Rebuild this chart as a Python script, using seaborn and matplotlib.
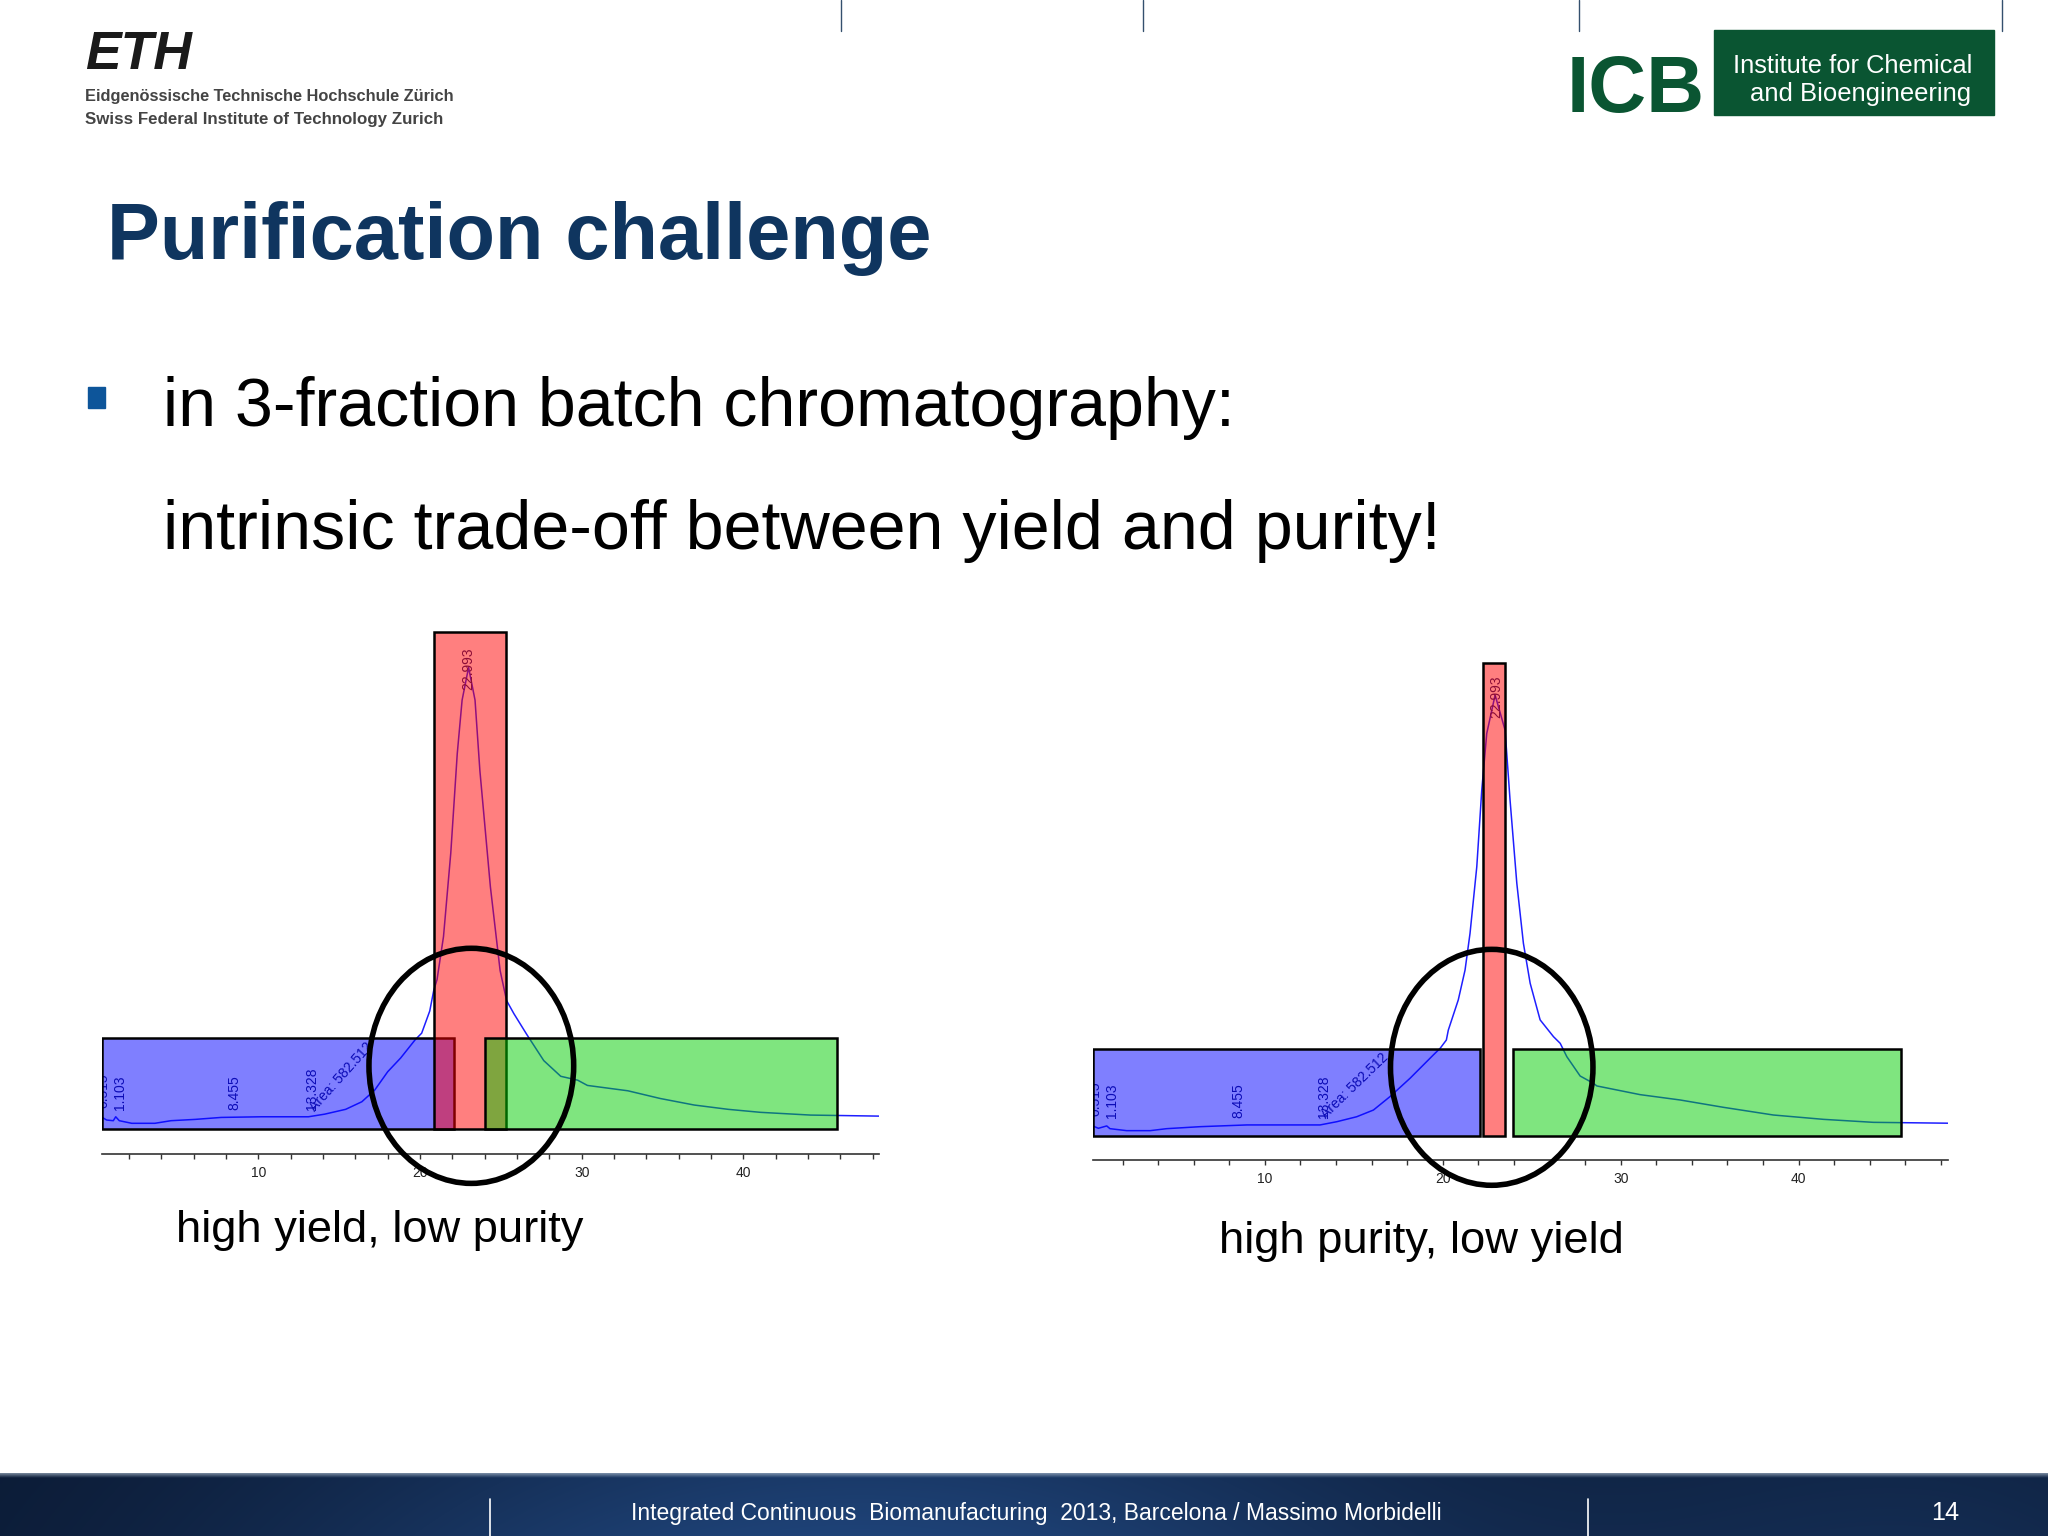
import numpy as np
import pandas as pd
import matplotlib
matplotlib.use("Agg")
import matplotlib.pyplot as plt
import seaborn as sns
from matplotlib.patches import Rectangle, Ellipse
from matplotlib.ticker import MultipleLocator, FixedLocator
from matplotlib import font_manager
from matplotlib.colors import to_rgba

# ---------------------------------------------------------------- texts
TITLE = "Purification challenge"
BULLET_1 = "in 3-fraction batch chromatography:"
BULLET_2 = "intrinsic trade-off between yield and purity!"
CAPTIONS = ["high yield, low purity", "high purity, low yield"]
FOOTER = "Integrated Continuous  Biomanufacturing  2013, Barcelona / Massimo Morbidelli"
PAGE = "14"
ETH_LOGO = "ETH"
ETH_LINES = ["Eidgenössische Technische Hochschule Zürich",
             "Swiss Federal Institute of Technology Zurich"]
ICB_LOGO = "ICB"
ICB_LINES = ["Institute for Chemical", "and Bioengineering"]

# ---------------------------------------------------------------- chromatograms
# left panel (high yield, low purity): time [min], signal [a.u.]
left_time = [0.35, 0.62, 1.03, 1.18, 1.40, 2.17, 3.6, 4.6, 6.1, 7.7, 10.2, 13.1,
             14.1, 15.4, 16.4, 17.2, 18.0, 18.8, 19.7, 20.1, 20.6, 20.85, 21.05,
             21.45, 21.9, 22.3, 22.6, 23.0, 23.4, 23.7, 24.35, 24.95, 25.35, 25.8,
             26.6, 27.65, 28.7, 29.75, 30.35, 31.75, 32.85, 34.85, 36.95, 39.05,
             41.05, 44.15, 48.4]
left_signal = [8.5, 6.5, 6.0, 9.0, 6.0, 4.0, 4.0, 6.0, 7.0, 8.5, 9.0, 9.0,
               11.0, 14.7, 20.5, 29.5, 43.5, 54.0, 68.0, 73.0, 90.0, 106.0, 114.0,
               147.0, 211.0, 287.0, 328.0, 353.0, 328.0, 274.0, 185.0, 121.0, 98.0, 88.0,
               72.0, 52.0, 40.0, 37.0, 33.0, 30.7, 28.9, 23.0, 18.0, 14.7,
               12.4, 10.3, 9.5]

# right panel (high purity, low yield)
right_time = [0.32, 0.64, 1.11, 1.29, 2.23, 3.55, 4.48, 6.36, 8.98, 13.1, 14.04,
              15.16, 16.1, 17.03, 18.16, 19.47, 19.85, 20.2, 20.31, 20.87, 21.25,
              21.53, 21.91, 22.19, 22.47, 22.94, 23.5, 23.78, 24.16, 24.53, 24.91,
              25.47, 26.22, 26.6, 26.97, 27.72, 28.46, 28.66, 31.09, 33.34, 35.77,
              38.58, 41.4, 44.2, 48.4]
right_signal = [7.8, 5.9, 7.8, 5.6, 4.0, 4.0, 5.6, 7.2, 8.6, 8.6, 11.2,
                15.2, 20.6, 31.4, 46.2, 65.0, 70.3, 77.0, 85.0, 109.3, 133.3,
                162.9, 216.5, 278.3, 323.9, 354.8, 326.6, 270.2, 203.2, 154.9, 122.7,
                93.2, 79.7, 74.3, 63.6, 48.0, 42.2, 40.0, 33.0, 28.7, 22.8,
                16.6, 13.1, 10.7, 10.0]

# peak annotations of the integrator
peak_times = [0.515, 1.103, 8.455, 13.328, 22.993]
peak_labels = ["0.515", "1.103", "8.455", "13.328", "22.993"]
area_label = "Area: 582.512"

# fraction cuts: waste 1 (blue), product (red), waste 2 (green)
fractions = ["waste 1", "product", "waste 2"]
left_cut_start = [0.35, 20.88, 24.0]
left_cut_end = [22.12, 25.34, 45.77]
right_cut_start = [0.32, 22.25, 23.97]
right_cut_end = [22.09, 23.47, 45.76]
cut_height = [69.5, 380.5, 69.5]

x_major = [10, 20, 30, 40]

# ---------------------------------------------------------------- layout / style
LABEL_SHIFT = [-0.06, 0.32, 0.05, 0.02, 0.0]     # label offsets from peak time
LABEL_BASE = [16.0, 14.0, 14.0, 14.0, 336.0]      # label bottom heights

sns.set_theme(style="white")
plt.rcParams["font.family"] = ["Liberation Sans", "DejaVu Sans"]
names = {f.name for f in font_manager.fontManager.ttflist}
NARROW = "Liberation Sans Narrow" if "Liberation Sans Narrow" in names else "Liberation Sans"

TITLE_C = "#0f355f"
BULLET_C = "#0d559a"
ICB_C = "#0a5532"
LABEL_C = "#1a1a6e"
LINE_C = "#1f1fff"
FRACTION_C = ["#0000ff", "#ff0000", "#00cc00"]

fig = plt.figure(figsize=(20.48, 15.36), dpi=100)
renderer = fig.canvas.get_renderer()

# background "slide" axes in pixel coordinates
bg = fig.add_axes([0, 0, 1, 1])
bg.set_facecolor("white")


def fit(ax, x, y, s, width, base=40, **kw):
    kw.setdefault("va", "baseline")
    kw.setdefault("ha", "left")
    t = ax.text(x, y, s, fontsize=base, **kw)
    w = t.get_window_extent(renderer=renderer).width
    t.set_fontsize(base * width / w)
    return t


# footer gradient band
W, H = 1024, 64
xs = np.linspace(0, 1, W)[None, :]
ys = np.linspace(0, 1, H)[:, None]
dark = np.array([10, 24, 48]) / 255
light = np.array([34, 74, 132]) / 255
g = 0.85 * np.exp(-((xs - 0.42) / 0.30) ** 2) + 0.35 * np.exp(-((xs - 0.95) / 0.18) ** 2)
g = np.clip(g * (0.8 + 0.2 * ys), 0, 1)
img = dark + (light - dark) * g[..., None]
edge = np.clip(1 - ys / 0.07, 0, 1)[..., None] * np.ones((1, W, 1))
img = img * (1 - 0.6 * edge) + np.array([0.7, 0.76, 0.82]) * 0.6 * edge
bg.imshow(img, extent=(0, 2048, 1536, 1473), aspect="auto", interpolation="bilinear", zorder=0)

bg.set_xlim(0, 2048)
bg.set_ylim(1536, 0)
bg.axis("off")

# top thin lines
for xl in [841, 1143, 1579, 2002]:
    bg.plot([xl, xl], [0, 31], color="#34506e", lw=1)

# footer separators and text
for xl in [489.8, 1588.2]:
    bg.plot([xl, xl], [1499, 1536], color="white", lw=1.2, zorder=2)
ft = fit(bg, 630.8, 1520.3, FOOTER, 811, family=NARROW, color="white", zorder=3)
bg.text(1959, 1520.3, PAGE, fontsize=ft.get_fontsize() * 1.1, family=NARROW, color="white",
        ha="right", va="baseline", zorder=3)

# ETH logo
fit(bg, 84.9, 69.2, ETH_LOGO, 107, weight="heavy", style="italic", color="#1a1a1a")
fit(bg, 84.9, 100.6, ETH_LINES[0], 371, family=NARROW, weight="bold", color="#444444")
fit(bg, 84.9, 124.1, ETH_LINES[1], 358, family=NARROW, weight="bold", color="#444444")

# ICB logo
icb = fit(bg, 1704.5, 112.3, ICB_LOGO, 138, family=NARROW, weight="bold", color=ICB_C)
icb.set_ha("right")
bg.add_patch(Rectangle((1713.6, 30), 280.8, 85, color=ICB_C, zorder=1))
fit(bg, 1733, 73, ICB_LINES[0], 240, family=NARROW, color="white", zorder=2)
fit(bg, 1750, 100.6, ICB_LINES[1], 221, family=NARROW, color="white", zorder=2)

# title and bullets
fit(bg, 107, 258.6, TITLE, 824, weight="bold", color=TITLE_C)
bg.add_patch(Rectangle((87.5, 386.6), 17, 21, color=BULLET_C))
fit(bg, 163.3, 425.8, BULLET_1, 1071, color="black")
fit(bg, 163.3, 548.6, BULLET_2, 1277, color="black")

# captions
fit(bg, 176.3, 1242, CAPTIONS[0], 407.5, color="black")
fit(bg, 1218.6, 1252.6, CAPTIONS[1], 405, color="black")


def chromatogram(rect, t, s, cut_start, cut_end, ring, area_pos, area_rot):
    ax = fig.add_axes(rect)
    ax.set_facecolor("none")
    df = pd.DataFrame({"time": t, "signal": s})
    sns.lineplot(data=df, x="time", y="signal", ax=ax, color=LINE_C, linewidth=1.1,
                 estimator=None, sort=False, zorder=2)
    for pt, lab, dx, yb in zip(peak_times, peak_labels, LABEL_SHIFT, LABEL_BASE):
        ax.text(pt + dx, yb, lab, rotation=90, ha="center", va="bottom", fontsize=10,
                color=LABEL_C, zorder=2.2, clip_on=True)
    ax.text(area_pos[0], area_pos[1], area_label, rotation=area_rot, rotation_mode="anchor",
            ha="left", va="bottom", fontsize=10, color=LABEL_C, zorder=2.2)
    for i in range(len(fractions)):
        ax.bar(cut_start[i], cut_height[i], width=cut_end[i] - cut_start[i], bottom=0,
               align="edge", facecolor=to_rgba(FRACTION_C[i], 0.5), edgecolor="black",
               linewidth=1.8, zorder=3)
    ax.add_patch(Ellipse((ring[0], ring[1]), ring[2], ring[3], fill=False,
                         edgecolor="black", linewidth=4, zorder=6, clip_on=False))
    ax.set_xlim(0.35, 48.4)
    ax.set_ylim(-19.5, 384)
    for sp in ["left", "right", "top"]:
        ax.spines[sp].set_visible(False)
    ax.spines["bottom"].set_color("#333333")
    ax.spines["bottom"].set_linewidth(1.2)
    ax.set_yticks([])
    ax.xaxis.set_major_locator(FixedLocator(x_major))
    ax.xaxis.set_minor_locator(MultipleLocator(2))
    ax.tick_params(axis="x", which="both", direction="out", length=3.5, width=1,
                   color="#333333", bottom=True)
    ax.tick_params(axis="x", which="major", labelsize=10, pad=5, labelcolor="#222222")
    for lab in ax.get_xticklabels():
        lab.set_family(NARROW)
    ax.set_xlabel("")
    ax.set_ylabel("")
    return ax


chromatogram([0.04995, 0.2487, 0.3794, 0.3431], left_time, left_signal,
             left_cut_start, left_cut_end, (23.17, 48, 12.66, 180), (13.65, 11.0), 48)
chromatogram([0.5338, 0.2449, 0.4174, 0.3262], right_time, right_signal,
             right_cut_start, right_cut_end, (22.75, 55, 11.38, 190), (13.57, 11.3), 44)

fig.savefig("out.png", dpi=100)
